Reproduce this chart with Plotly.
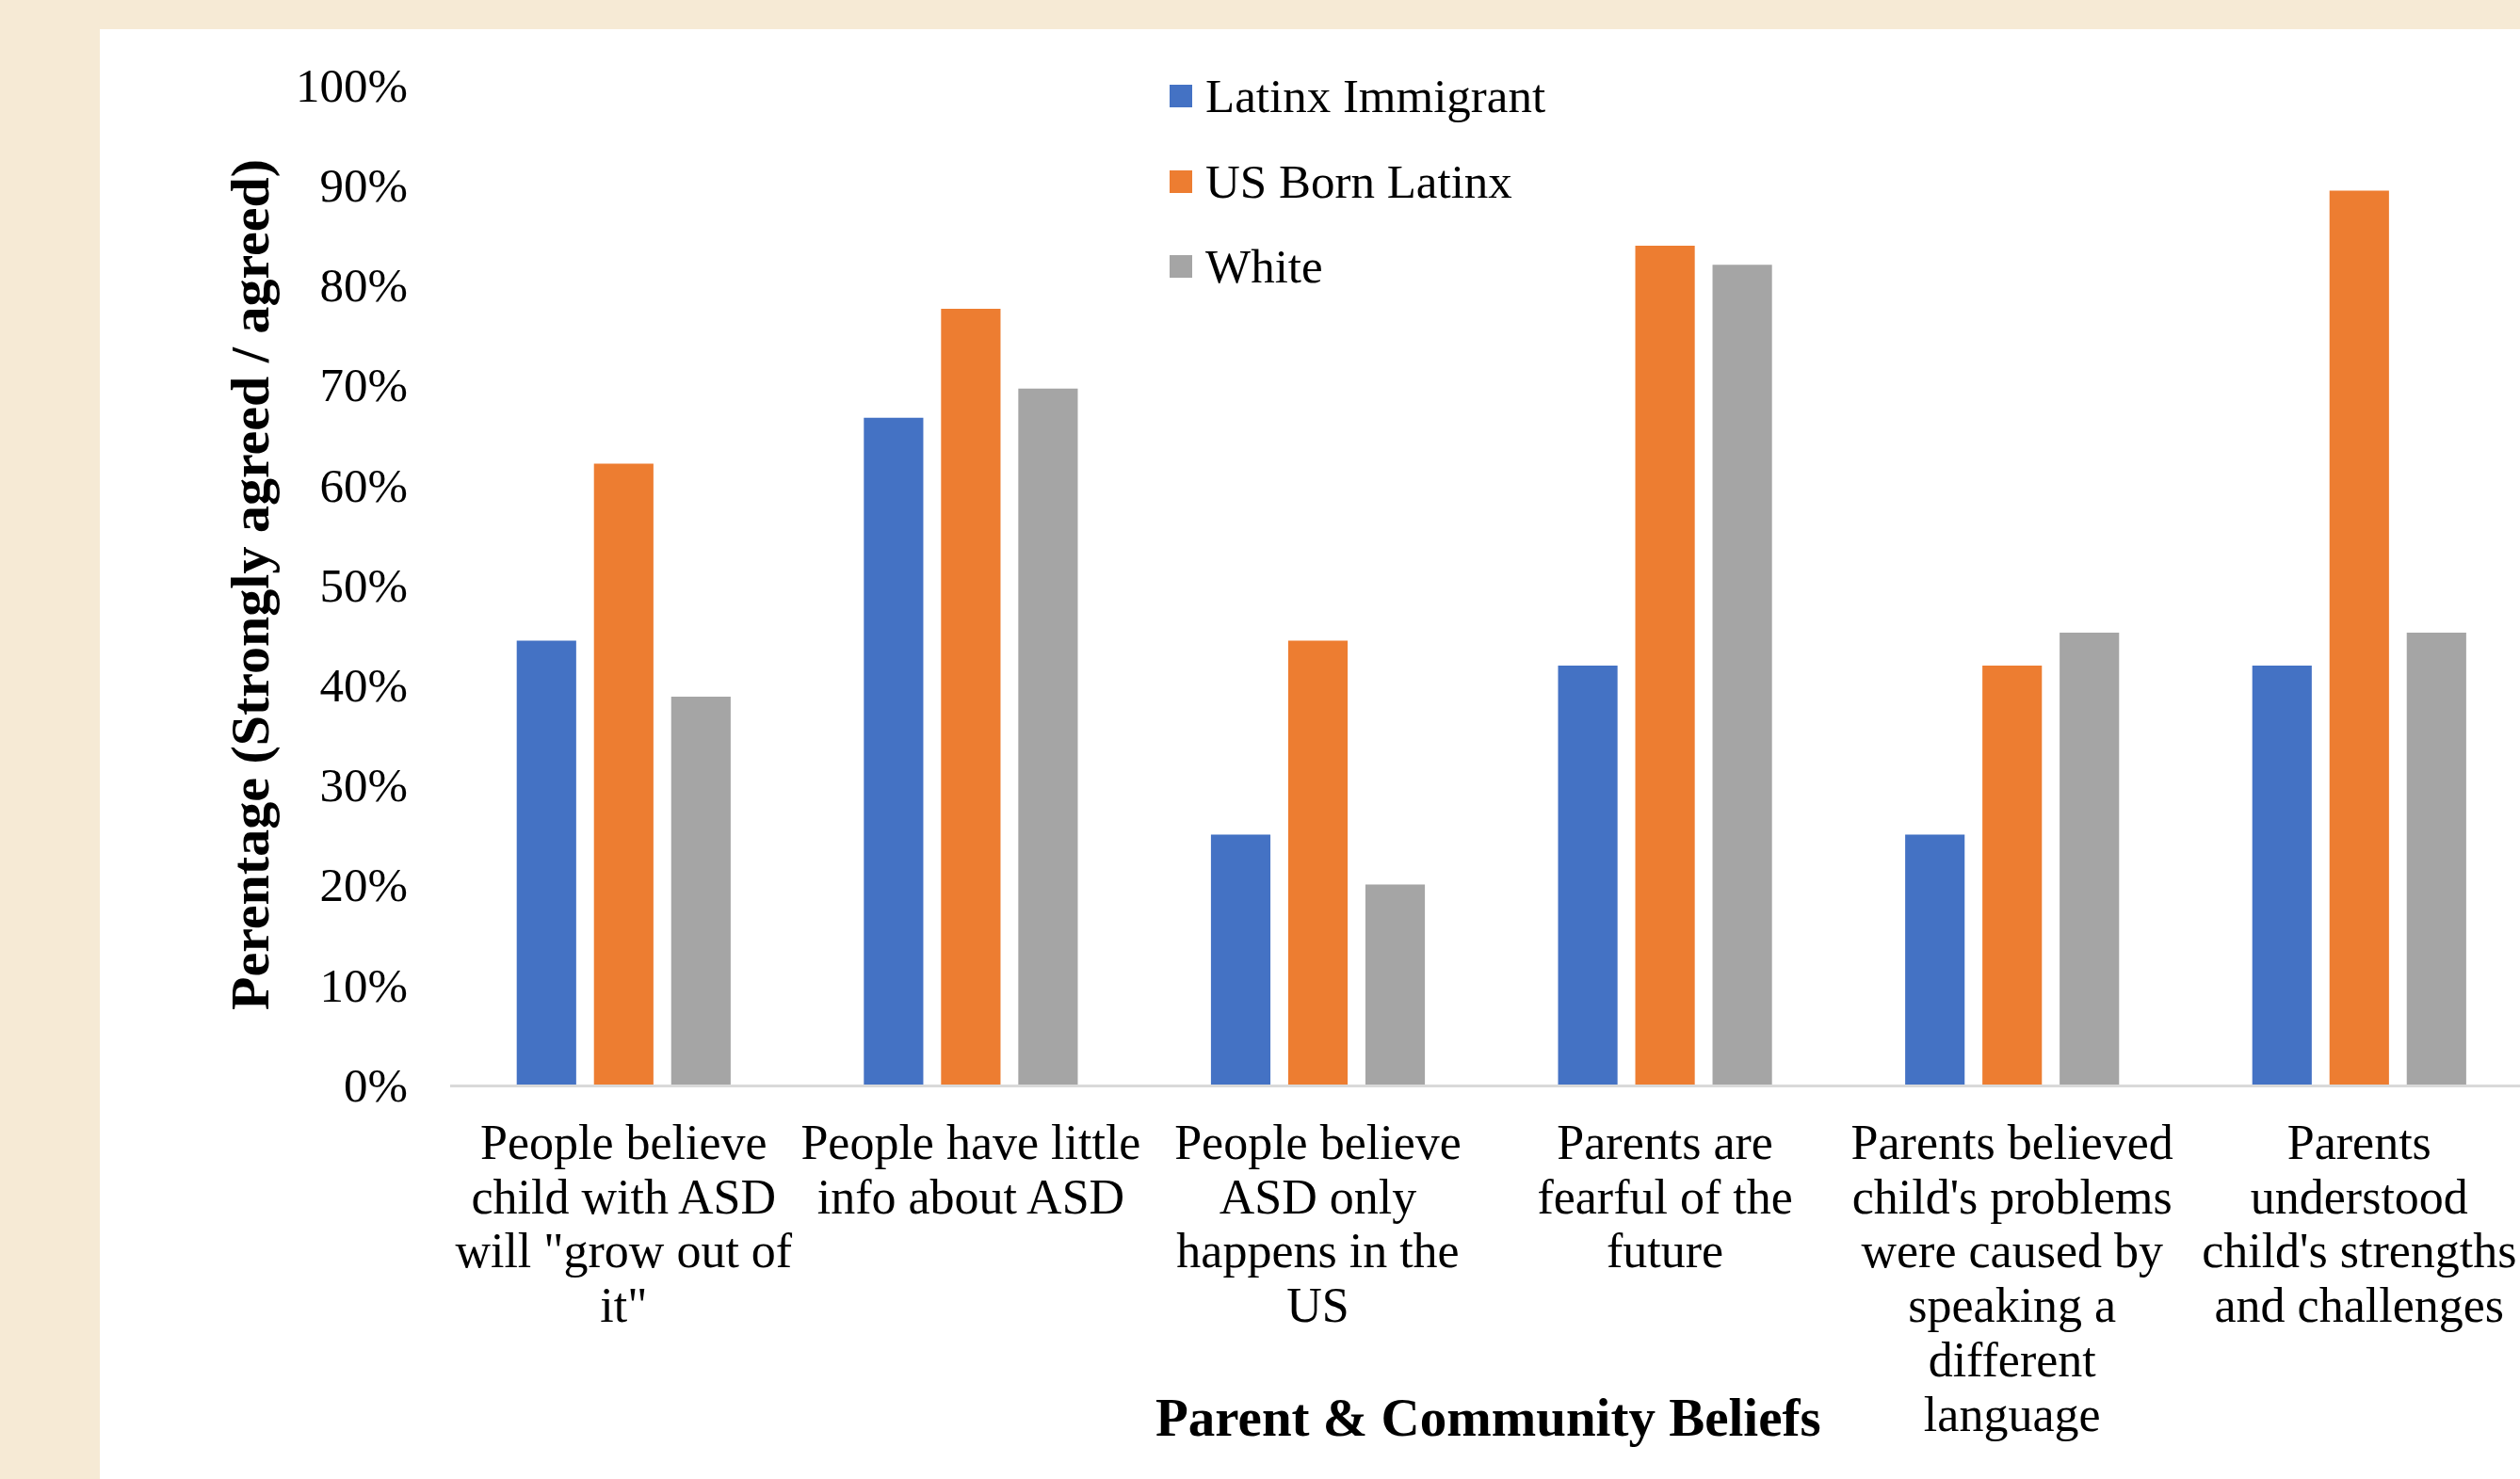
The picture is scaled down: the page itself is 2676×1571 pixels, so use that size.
import plotly.graph_objects as go

# ---------------- data ----------------
categories = [
    'People believe child with ASD will "grow out of it"',
    'People have little info about ASD',
    'People believe ASD only happens in the US',
    'Parents are fearful of the future',
    "Parents believed child's problems were caused by speaking a different language",
    "Parents understood child's strengths and challenges",
]
category_tick_labels = [
    'People believe<br>child with ASD<br>will "grow out of<br>it"',
    'People have little<br>info about ASD',
    'People believe<br>ASD only<br>happens in the<br>US',
    'Parents are<br>fearful of the<br>future',
    "Parents believed<br>child's problems<br>were caused by<br>speaking a<br>different<br>language",
    "Parents<br>understood<br>child's strengths<br>and challenges",
]
series_names = ["Latinx Immigrant", "US Born Latinx", "White"]
latinx_immigrant = [44.4, 66.7, 25.0, 41.9, 25.0, 41.9]
us_born_latinx = [62.1, 77.6, 44.4, 83.9, 41.9, 89.4]
white = [38.8, 69.6, 20.0, 82.0, 45.2, 45.2]
y_ticks = [0, 10, 20, 30, 40, 50, 60, 70, 80, 90, 100]
y_tick_labels = [f"{v}%" for v in y_ticks]
x_title = "Parent & Community Beliefs"
y_title = "Perentage (Strongly agreed / agreed)"

# ---------------- styling ----------------
W, H = 2676, 1571
ML, MR, MT, MB = 478, 0, 90, 419
PW, PH = W - ML - MR, H - MT - MB
colors = ["#4472C4", "#ED7D31", "#A5A5A5"]
FONT = "Liberation Serif, Times New Roman, serif"


def px_x(px):
    return (px - ML) / PW


def px_y(py):
    return (H - MB - py) / PH


fig = go.Figure()
for name, vals, col in zip(series_names, [latinx_immigrant, us_born_latinx, white], colors):
    fig.add_trace(go.Bar(x=categories, y=vals, name=name, marker=dict(color=col, line=dict(width=0)),
                         showlegend=False))

shapes = [
    dict(type="rect", xref="paper", yref="paper", x0=px_x(106), x1=px_x(W + 5),
         y0=px_y(H + 5), y1=px_y(31), fillcolor="white", line=dict(width=0), layer="below"),
]
annotations = [
    dict(text=f"<b>{y_title}</b>", xref="paper", yref="paper", x=px_x(265), y=0.5,
         textangle=-90, showarrow=False, xanchor="center", yanchor="middle",
         font=dict(family=FONT, size=58, color="black")),
    dict(text=f"<b>{x_title}</b>", xref="paper", yref="paper", x=px_x(1580), y=px_y(1505),
         showarrow=False, xanchor="center", yanchor="middle",
         font=dict(family=FONT, size=57, color="black")),
]
legend_y = [102, 193, 283]
for name, col, cy in zip(series_names, colors, legend_y):
    shapes.append(dict(type="rect", xref="paper", yref="paper", x0=px_x(1242), x1=px_x(1266),
                       y0=px_y(cy + 12), y1=px_y(cy - 12), fillcolor=col, line=dict(width=0)))
    annotations.append(dict(text=name, xref="paper", yref="paper", x=px_x(1278), y=px_y(cy),
                            showarrow=False, xanchor="left", yanchor="middle",
                            font=dict(family=FONT, size=51, color="black")))

# tick font size sets the line spacing (1.3 em); the span sets the glyph size
tick_text = [f'<span style="font-size:52px">{t}</span>' for t in category_tick_labels]

fig.update_layout(
    width=W, height=H, autosize=False,
    margin=dict(l=ML, r=MR, t=MT, b=MB, pad=0),
    paper_bgcolor="#F6EAD5", plot_bgcolor="rgba(0,0,0,0)",
    barmode="group", bargap=0.3325, bargroupgap=0.23,
    showlegend=False,
    shapes=shapes, annotations=annotations,
    font=dict(family=FONT, color="black"),
)
fig.update_xaxes(
    range=[-0.5, -0.5 + PW / 368.6], showgrid=False, zeroline=False,
    showline=True, linecolor="#D9D9D9", linewidth=3, ticks="",
    tickmode="array", tickvals=categories, ticktext=tick_text,
    tickfont=dict(family=FONT, size=44.6, color="black"), ticklabelstandoff=22,
    automargin=False, tickangle=0,
)
fig.update_yaxes(
    range=[0, 100], tickvals=y_ticks, ticktext=y_tick_labels,
    showgrid=False, zeroline=False, showline=False, ticks="",
    tickfont=dict(family=FONT, size=51, color="black"), ticklabelstandoff=44,
    automargin=False,
)

fig.write_html("out.html")
